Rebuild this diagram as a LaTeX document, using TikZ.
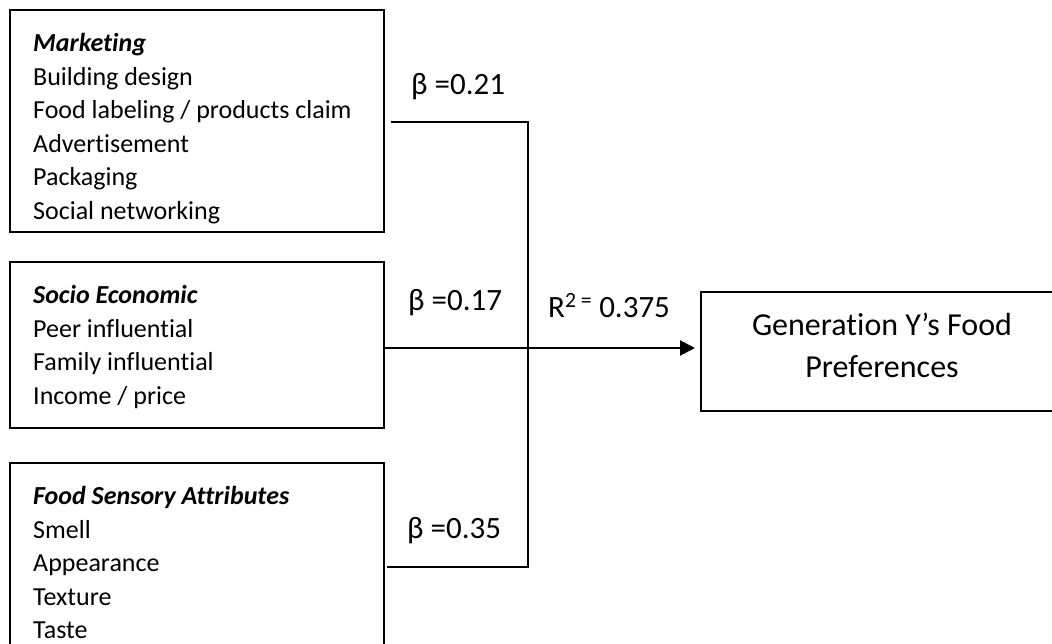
\documentclass[tikz,border=0pt]{standalone}
\usepackage{fontspec}
\setmainfont[Ligatures=NoCommon,RawFeature=-liga]{Carlito}
\usetikzlibrary{arrows.meta}
\begin{document}
\begin{tikzpicture}[x=1pt,y=-1pt,
  box/.style={draw,line width=2pt,inner sep=0pt},
  conn/.style={line width=2pt},
  itemtext/.style={anchor=north west,inner sep=0pt,align=left,font=\fontsize{26}{33.5}\selectfont},
  coef/.style={anchor=base west,inner sep=0pt,font=\fontsize{31}{37}\selectfont},
  goaltext/.style={anchor=north,inner sep=0pt,align=center,font=\fontsize{32}{42}\selectfont}]
\useasboundingbox (0,0) rectangle (1052,644);
\clip (0,0) rectangle (1052,644);
% boxes
\node[box,minimum width=374pt,minimum height=222pt] (mkt) at (197,121) {};
\node[box,minimum width=374pt,minimum height=166pt] (soc) at (197,345) {};
\node[box,minimum width=374pt,minimum height=260pt] (fsa) at (197,592.7) {};
\node[box,minimum width=362pt,minimum height=118pt] (tgt) at (882,351.5) {};
% box texts
\node[itemtext] (mkttxt) at (33,28) {\strut\textbf{\textit{Marketing}}\\Building design\\Food labeling / products claim\\Advertisement\\Packaging\\Social networking};
\node[itemtext] (soctxt) at (33,280) {\strut\textbf{\textit{Socio Economic}}\\Peer influential\\Family influential\\Income / price};
\node[itemtext] (fsatxt) at (33,481) {\strut\textbf{\textit{Food Sensory Attributes}}\\Smell\\Appearance\\Texture\\Taste};
\node[goaltext] (tgttxt) at (882,305.6) {\strut Generation Y’s Food\\Preferences};
% connectors
\coordinate (j1) at (528,122);
\coordinate (j2) at (528,348);
\coordinate (j3) at (528,567);
\draw[conn] ([xshift=6pt]mkt.east |- j1) -- (j1) -- (j3) -- ([xshift=2pt]fsa.east |- j3);
\draw[conn,-{Triangle[length=15pt,width=15pt]},shorten >=5pt] (soc.east |- j2) -- (tgt.west |- j2);
% labels
\node[coef] (b1) at (411,95) {β =0.21};
\node[coef] (b2) at (408,311) {β =0.17};
\node[coef] (b3) at (407,538.5) {β =0.35};
\node[coef] (r2) at (548,317) {R\textsuperscript{2 =} 0.375};
\end{tikzpicture}
\end{document}
